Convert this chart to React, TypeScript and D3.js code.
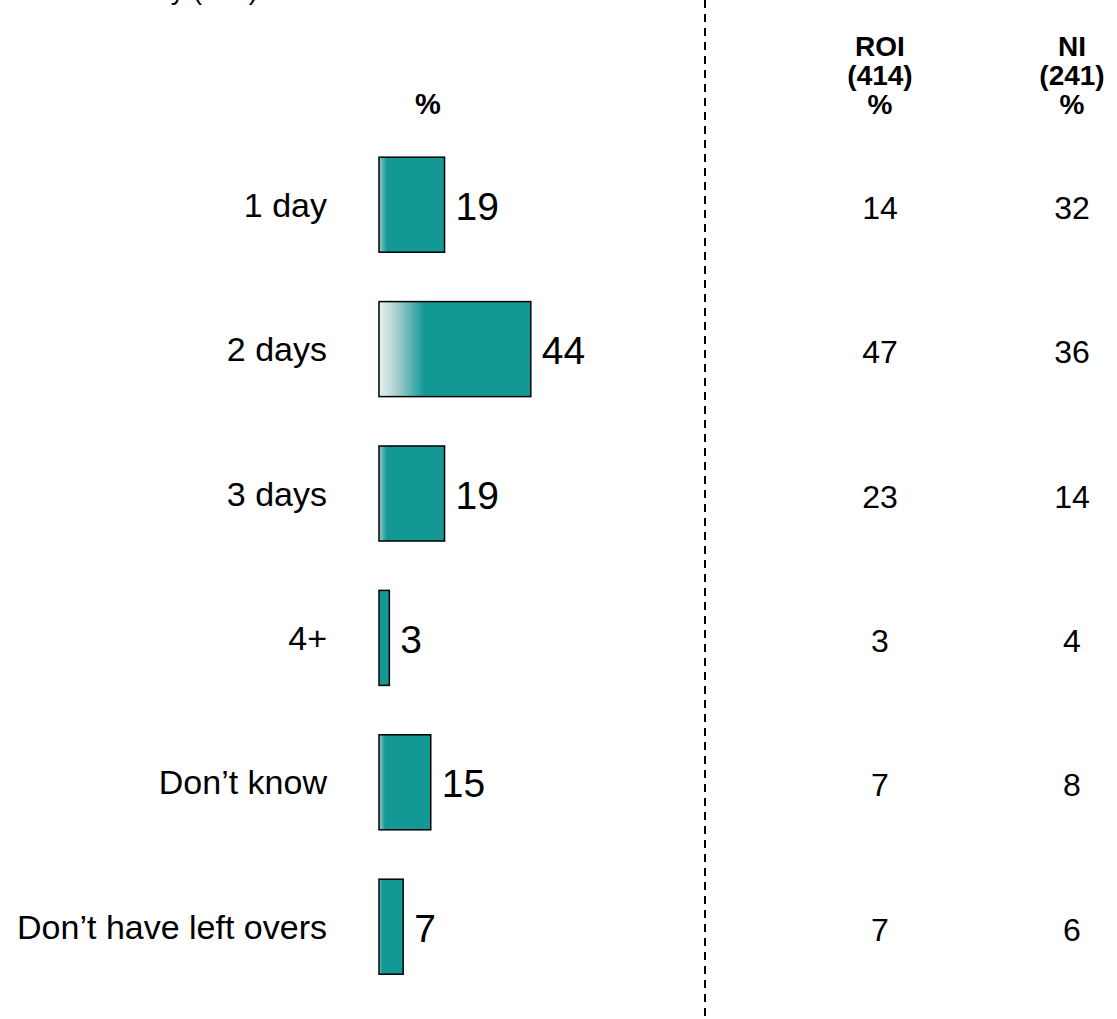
import React, { useEffect, useRef } from 'react';
import * as d3 from 'd3';

const categories = ['1 day', '2 days', '3 days', '4+', "Don\u2019t know", "Don\u2019t have left overs"];
const totalValues = [19, 44, 19, 3, 15, 7];
const roiValues = [14, 47, 23, 3, 7, 7];
const niValues = [32, 36, 14, 4, 8, 6];
const roiHeader = ['ROI', '(414)', '%'];
const niHeader = ['NI', '(241)', '%'];

const App: React.FC = () => {
    const svgRef = useRef<SVGSVGElement>(null);

    useEffect(() => {
        if (!svgRef.current) return;
        const height = 1019;
        const teal = '#129996';
        const font = 'Arial, "Liberation Sans", sans-serif';

        const svg = d3.select(svgRef.current);
        svg.selectAll('*').remove();

        const defs = svg.append('defs');
        // wide soft gradient (the big bar) and a narrow edge gradient (the rest)
        const gWide = defs.append('linearGradient').attr('id', 'gradWide');
        gWide.append('stop').attr('offset', 0).attr('stop-color', '#e6f1f1');
        gWide.append('stop').attr('offset', 0.1).attr('stop-color', '#b5d4d3');
        gWide.append('stop').attr('offset', 0.3).attr('stop-color', teal);
        gWide.append('stop').attr('offset', 1).attr('stop-color', teal);
        const gNarrow = defs.append('linearGradient').attr('id', 'gradNarrow');
        gNarrow.append('stop').attr('offset', 0).attr('stop-color', '#9ccac8');
        gNarrow.append('stop').attr('offset', 0.12).attr('stop-color', teal);
        gNarrow.append('stop').attr('offset', 1).attr('stop-color', teal);

        const x = d3.scaleLinear().domain([0, 100]).range([379, 379 + 345]);
        const y = d3.scaleBand<string>()
            .domain(categories)
            .range([132.5, 132.5 + 6 * 144.4])
            .paddingInner(0.342)
            .paddingOuter(0.171);

        // header text cut off at the top
        svg.append('text')
            .attr('x', 258).attr('y', -1)
            .attr('text-anchor', 'end')
            .style('font-family', font).style('font-size', '28px')
            .text('Base: All who say (655)');

        // dashed divider
        svg.append('line')
            .attr('x1', 705).attr('x2', 705)
            .attr('y1', 0).attr('y2', height)
            .attr('stroke', '#000').attr('stroke-width', 2)
            .attr('stroke-dasharray', '8,6');

        // column headers
        svg.append('text')
            .attr('x', 428).attr('y', 114)
            .attr('text-anchor', 'middle')
            .style('font-family', font).style('font-size', '29px').style('font-weight', 'bold')
            .text('%');

        const headers = [{ cx: 880, lines: roiHeader }, { cx: 1072, lines: niHeader }];
        headers.forEach(h => {
            h.lines.forEach((line, i) => {
                svg.append('text')
                    .attr('x', h.cx).attr('y', 56 + i * 29)
                    .attr('text-anchor', 'middle')
                    .style('font-family', font).style('font-size', '28px').style('font-weight', 'bold')
                    .text(line);
            });
        });

        const rows = categories.map((c, i) => ({ c, v: totalValues[i], roi: roiValues[i], ni: niValues[i] }));

        // category labels
        svg.selectAll('.cat')
            .data(rows)
            .enter()
            .append('text')
            .attr('x', 327)
            .attr('y', d => (y(d.c) as number) + y.bandwidth() / 2 + 12)
            .attr('text-anchor', 'end')
            .style('font-family', font).style('font-size', '34px')
            .text(d => d.c);

        // bars
        svg.selectAll('.bar')
            .data(rows)
            .enter()
            .append('rect')
            .attr('x', x(0))
            .attr('y', d => y(d.c) as number)
            .attr('width', d => x(d.v) - x(0))
            .attr('height', y.bandwidth())
            .attr('fill', d => d.v > 30 ? 'url(#gradWide)' : 'url(#gradNarrow)')
            .attr('stroke', '#000')
            .attr('stroke-width', 1.5);

        // bar value labels
        svg.selectAll('.val')
            .data(rows)
            .enter()
            .append('text')
            .attr('x', d => x(d.v) + 11)
            .attr('y', d => (y(d.c) as number) + y.bandwidth() / 2 + 15)
            .style('font-family', font).style('font-size', '39px')
            .text(d => d.v);

        // ROI / NI columns
        [{ cx: 880, key: 'roi' as const }, { cx: 1072, key: 'ni' as const }].forEach(col => {
            svg.selectAll('.col-' + col.key)
                .data(rows)
                .enter()
                .append('text')
                .attr('x', col.cx)
                .attr('y', d => (y(d.c) as number) + y.bandwidth() / 2 + 14)
                .attr('text-anchor', 'middle')
                .style('font-family', font).style('font-size', '32px')
                .text(d => d[col.key]);
        });
    }, []);

    return (
        <svg ref={svgRef} width={1117} height={1019} viewBox="0 0 1117 1019"
            style={{ position: 'absolute', left: 0, top: 0, background: '#fff' }} />
    );
};

export default App;
